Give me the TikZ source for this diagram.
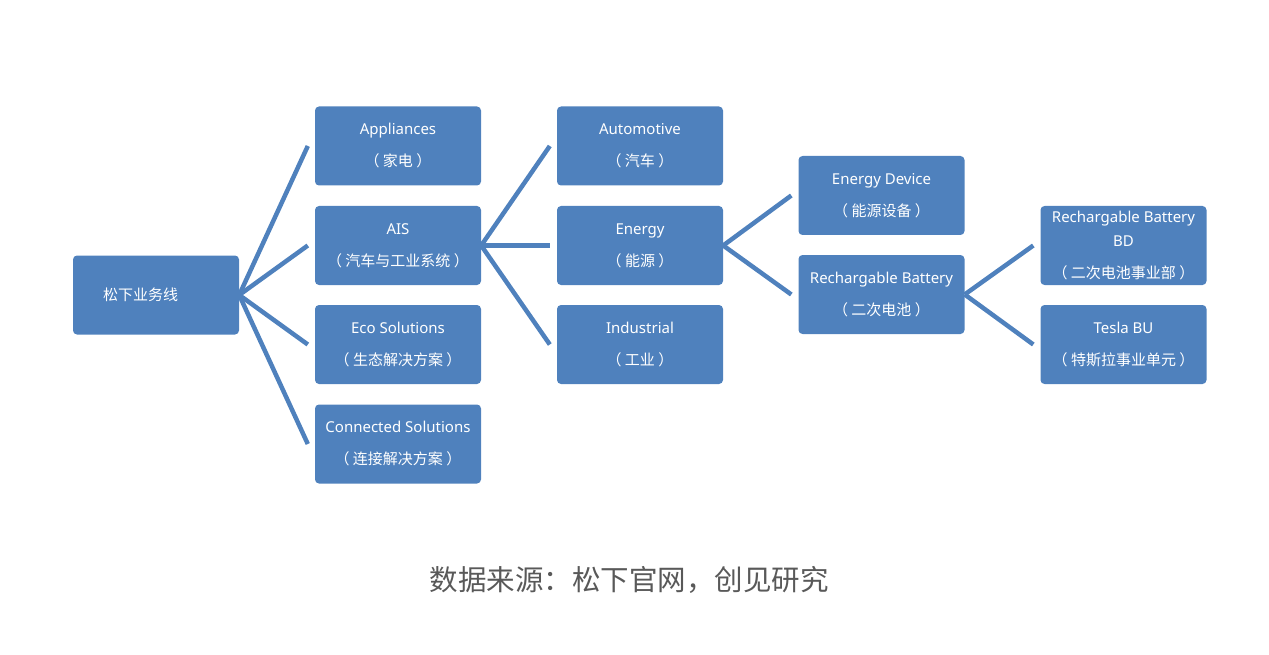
\documentclass[tikz,border=0pt]{standalone}
\usepackage{fontspec}
\setmainfont{Noto Sans}
\newfontfamily\cjk{Noto Sans CJK SC}
\definecolor{boxblue}{RGB}{79,129,189}
\definecolor{notegray}{RGB}{89,89,89}

\begin{document}
\begin{tikzpicture}[x=1pt, y=-1pt,
    unit/.style={rectangle, rounded corners=4pt, fill=boxblue, text=white,
      minimum width=166pt, minimum height=79pt, inner sep=0pt, align=center,
      font=\fontsize{15}{32}\selectfont},
    link/.style={draw=boxblue, line width=4.5pt},
    note/.style={text=notegray, font=\cjk\fontsize{28.5}{32}\selectfont}]
  \useasboundingbox (0,0) rectangle (1269,655);

  % draws the business units, column by column
  \node[unit, text width=106pt, align=left] (root) at (156,295) {\cjk 松下业务线};

  \node[unit] (app) at (398,146)   {Appliances\\ \cjk（ 家电 ）};
  \node[unit] (ais) at (398,245.5) {AIS\\ \cjk（ 汽车与工业系统 ）};
  \node[unit] (eco) at (398,344.5) {Eco Solutions\\ \cjk（ 生态解决方案 ）};
  \node[unit] (con) at (398,444)   {Connected Solutions\\ \cjk（ 连接解决方案 ）};

  \node[unit] (auto)  at (640,146)   {Automotive\\ \cjk（ 汽车 ）};
  \node[unit] (enrg)  at (640,245.5) {Energy\\ \cjk（ 能源 ）};
  \node[unit] (indus) at (640,344.5) {Industrial\\ \cjk（ 工业 ）};

  \node[unit] (edev) at (881.5,195.5) {Energy Device\\ \cjk（ 能源设备 ）};
  \node[unit] (rbat) at (881.5,294.5) {Rechargable Battery\\ \cjk（ 二次电池 ）};

  \node[unit] (rbbd)  at (1123.5,245.5) {Rechargable Battery\\[-8pt] BD\\ \cjk（ 二次电池事业部 ）};
  \node[unit] (tesla) at (1123.5,344.5) {Tesla BU\\ \cjk（ 特斯拉事业单元 ）};

  % draws the branches
  \foreach \kid in {app,ais,eco,con}
    \draw[link] (root.east) -- ([xshift=-7pt]\kid.west);
  \foreach \kid in {auto,enrg,indus}
    \draw[link] (ais.east) -- ([xshift=-7pt]\kid.west);
  \foreach \kid in {edev,rbat}
    \draw[link] (enrg.east) -- ([xshift=-7pt]\kid.west);
  \foreach \kid in {rbbd,tesla}
    \draw[link] (rbat.east) -- ([xshift=-7pt]\kid.west);

  % draws the source line
  \node[note] (source) at (629,580) {数据来源：松下官网，创见研究};
\end{tikzpicture}
\end{document}
